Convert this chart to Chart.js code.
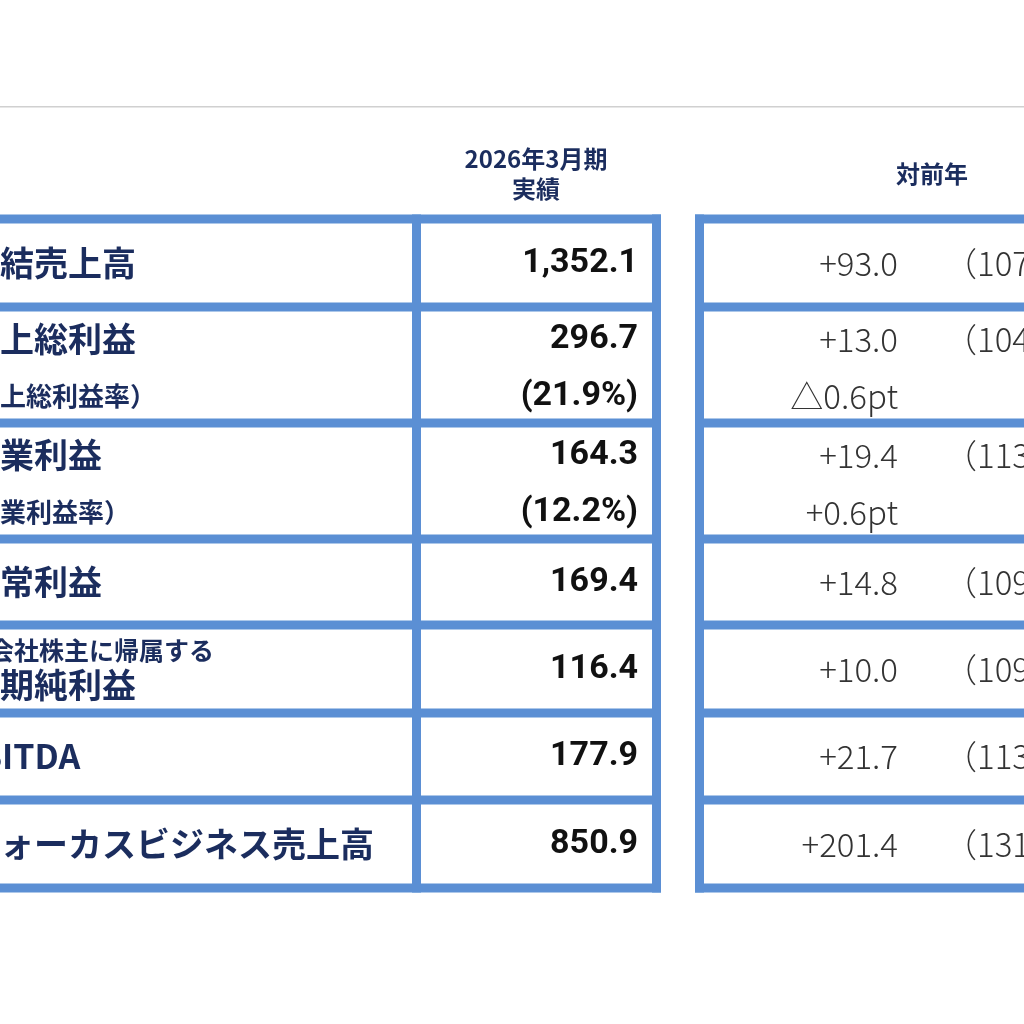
<!DOCTYPE html>
<html><head><meta charset="utf-8">
<script src="https://cdn.jsdelivr.net/npm/chart.js@4"></script>
<style>html,body{margin:0;padding:0;background:#fff;overflow:hidden}canvas{display:block}</style>
</head><body>
<canvas id="c" width="1024" height="1024" style="width:1024px;height:1024px"></canvas>
<script>
const headerValue = ['2026年3月期', '実績'];
const headerDiff = '対前年';
const labels = ['連結売上高', '売上総利益', '営業利益', '経常利益', '当期純利益', 'EBITDA', 'フォーカスビジネス売上高'];
const subLabels = ['', '（売上総利益率）', '（営業利益率）', '', '', '', ''];
const preLabels = ['', '', '', '', '親会社株主に帰属する', '', ''];
const values = ['1,352.1', '296.7', '164.3', '169.4', '116.4', '177.9', '850.9'];
const ratios = ['', '（21.9%）', '（12.2%）', '', '', '', ''];
const diffs = ['+93.0', '+13.0', '+19.4', '+14.8', '+10.0', '+21.7', '+201.4'];
const diffRatios = ['', '△0.6pt', '+0.6pt', '', '', '', ''];
const pcts = ['（107.4%）', '（104.6%）', '（113.4%）', '（109.6%）', '（109.4%）', '（113.9%）', '（131.0%）'];
const rowLines = [219, 307, 423, 539, 625, 713, 800, 888];

const BLUE = '#5b8fd4', NAVY = '#1b2d5e';
const tablePlugin = {
  id: 'table',
  afterDraw(chart) {
    const ctx = chart.ctx, X = v => chart.scales.x.getPixelForValue(v), Y = v => chart.scales.y.getPixelForValue(v);
    ctx.save();
    ctx.fillStyle = '#d0d0d0';
    ctx.fillRect(X(0), Y(106), X(1024) - X(0), 1.5);
    ctx.fillStyle = NAVY; ctx.textAlign = 'center'; ctx.textBaseline = 'middle';
    ctx.font = 'bold 24px "Noto Sans CJK JP"';
    ctx.fillText(headerValue[0], X(536), Y(159));
    ctx.fillText(headerValue[1], X(536), Y(189));
    ctx.fillText(headerDiff, X(932), Y(174));
    const t = 9;
    ctx.fillStyle = BLUE;
    rowLines.forEach(y => {
      ctx.fillRect(X(-10), Y(y) - t / 2, X(661) - X(-10), t);
      ctx.fillRect(X(695), Y(y) - t / 2, X(1030) - X(695), t);
    });
    const top = Y(rowLines[0]) - t / 2, h = Y(rowLines[rowLines.length - 1]) + t / 2 - top;
    [412, 652, 695].forEach(x => ctx.fillRect(X(x), top, t, h));
    for (let i = 0; i < labels.length; i++) {
      const y0 = Y(rowLines[i]), y1 = Y(rowLines[i + 1]);
      const two = subLabels[i] || ratios[i];
      const m1 = two ? y0 + 32 : (y0 + y1) / 2, m2 = y1 - 27;
      ctx.textBaseline = 'middle';
      ctx.fillStyle = NAVY; ctx.textAlign = 'left';
      if (preLabels[i]) {
        ctx.font = 'bold 25px "Noto Sans CJK JP"';
        ctx.fillText(preLabels[i], X(-36), y0 + 25);
        ctx.font = 'bold 34px "Noto Sans CJK JP"';
        ctx.fillText(labels[i], X(-34), y0 + 60);
      } else {
        ctx.font = 'bold 34px "Noto Sans CJK JP"';
        ctx.fillText(labels[i], X(labels[i] === 'EBITDA' ? -42 : -34), m1);
      }
      if (subLabels[i]) {
        ctx.font = 'bold 26px "Noto Sans CJK JP"';
        ctx.fillText(subLabels[i], X(-52), m2);
      }
      ctx.fillStyle = '#111'; ctx.textAlign = 'right';
      ctx.font = 'bold 34px "Roboto"';
      ctx.fillText(values[i], X(638), m1);
      if (ratios[i]) ctx.fillText(ratios[i].replace('（', '(').replace('）', ')'), X(638), m2);
      ctx.fillStyle = '#333';
      ctx.font = '300 33px "Noto Sans CJK JP"';
      ctx.fillText(diffs[i], X(898), m1);
      if (diffRatios[i]) ctx.fillText(diffRatios[i], X(898), m2);
      ctx.textAlign = 'left';
      ctx.fillText(pcts[i], X(944), m1);
    }
    ctx.restore();
  }
};
new Chart(document.getElementById('c'), {
  type: 'scatter',
  data: { datasets: [{ data: [] }] },
  options: {
    responsive: false, animation: false, events: [],
    layout: { padding: 0 },
    plugins: { legend: { display: false }, tooltip: { enabled: false } },
    scales: {
      x: { type: 'linear', min: 0, max: 1024, display: false },
      y: { type: 'linear', min: 0, max: 1024, reverse: true, display: false }
    }
  },
  plugins: [tablePlugin]
});
</script>
</body></html>
